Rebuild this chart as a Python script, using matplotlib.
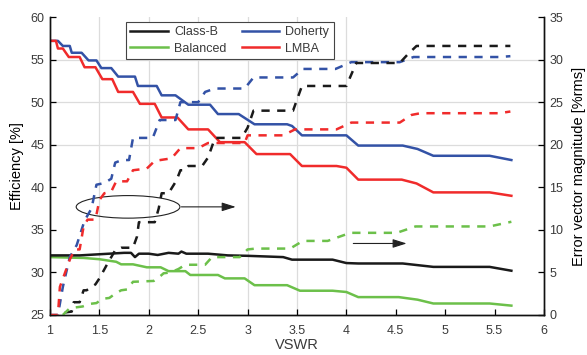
import matplotlib.pyplot as plt
from matplotlib.patches import Ellipse

plt.rcParams['font.family'] = ['Liberation Sans', 'DejaVu Sans']
plt.rcParams['font.size'] = 9

# efficiency (left axis, solid)
doherty_eff_x = [1.0, 1.08, 1.13, 1.20, 1.22, 1.32, 1.39, 1.47, 1.52, 1.62, 1.69, 1.86, 1.89, 2.08,
                 2.13, 2.27, 2.40, 2.62, 2.70, 2.91, 3.07, 3.40, 3.45, 3.55, 4.0, 4.12, 4.57, 4.72,
                 4.88, 5.45, 5.67]
doherty_eff_y = [57.2, 57.2, 56.6, 56.6, 55.8, 55.8, 54.9, 54.9, 54.0, 54.0, 53.0, 53.0, 51.9, 51.9,
                 50.8, 50.8, 49.7, 49.7, 48.6, 48.6, 47.4, 47.4, 47.2, 46.1, 46.1, 44.9, 44.9, 44.5,
                 43.7, 43.7, 43.2]

lmba_eff_x = [1.0, 1.06, 1.08, 1.13, 1.19, 1.30, 1.35, 1.46, 1.53, 1.63, 1.69, 1.84, 1.91, 2.06,
              2.13, 2.29, 2.40, 2.60, 2.72, 2.97, 3.09, 3.43, 3.55, 3.90, 4.0, 4.12, 4.56, 4.71,
              4.88, 5.45, 5.67]
lmba_eff_y = [57.2, 57.2, 56.3, 56.3, 55.3, 55.3, 54.1, 54.1, 52.7, 52.7, 51.2, 51.2, 49.8, 49.8,
              48.2, 48.2, 46.8, 46.8, 45.3, 45.3, 43.9, 43.9, 42.5, 42.5, 42.3, 40.9, 40.9, 40.45,
              39.4, 39.4, 39.0]

classb_eff_x = [1.0, 1.3, 1.45, 1.6, 1.75, 1.82, 1.86, 1.9, 2.0, 2.09, 2.2, 2.3, 2.33, 2.38, 2.6,
                2.8, 3.0, 3.36, 3.45, 3.86, 4.0, 4.12, 4.57, 4.88, 5.45, 5.67]
classb_eff_y = [32.0, 32.0, 32.1, 32.2, 32.3, 32.3, 31.8, 32.2, 32.2, 32.05, 32.3, 32.2, 32.45, 32.2,
                32.2, 32.0, 31.95, 31.8, 31.5, 31.5, 31.1, 31.05, 31.05, 30.65, 30.65, 30.2]

balanced_eff_x = [1.0, 1.34, 1.5, 1.67, 1.72, 1.84, 1.98, 2.12, 2.2, 2.37, 2.42, 2.7, 2.77, 2.97,
                  3.07, 3.4, 3.53, 3.86, 4.0, 4.12, 4.53, 4.72, 4.88, 5.45, 5.67]
balanced_eff_y = [31.8, 31.7, 31.55, 31.25, 30.95, 30.95, 30.6, 30.6, 30.15, 30.15, 29.7, 29.7,
                  29.3, 29.3, 28.5, 28.5, 27.85, 27.85, 27.7, 27.1, 27.1, 26.8, 26.35, 26.35, 26.1]

# EVM (right axis, dashed)
doherty_evm_x = [1.0, 1.08, 1.13, 1.2, 1.27, 1.35, 1.42, 1.47, 1.55, 1.62, 1.66, 1.73, 1.80, 1.84,
                 2.04, 2.11, 2.27, 2.32, 2.50, 2.57, 2.67, 2.97, 3.06, 3.46, 3.56, 3.89, 4.05, 4.54,
                 4.68, 5.55, 5.66]
doherty_evm_y = [0.0, 0.0, 3.3, 6.8, 8.2, 11.1, 12.5, 15.3, 15.5, 16.0, 17.9, 18.2, 18.2, 20.8,
                 20.8, 22.9, 22.9, 25.0, 25.0, 26.2, 26.6, 26.6, 27.9, 27.9, 28.9, 28.9, 29.7, 29.7,
                 30.3, 30.3, 30.4]

lmba_evm_x = [1.0, 1.08, 1.1, 1.2, 1.25, 1.30, 1.34, 1.38, 1.46, 1.5, 1.55, 1.62, 1.67, 1.78, 1.84,
              1.98, 2.06, 2.23, 2.32, 2.50, 2.60, 2.97, 3.0, 3.36, 3.48, 3.90, 4.05, 4.54, 4.66,
              4.75, 5.55, 5.66]
lmba_evm_y = [0.0, 0.0, 3.3, 6.5, 7.7, 7.7, 10.4, 11.2, 11.2, 13.5, 14.3, 14.5, 15.7, 15.7, 17.0,
              17.2, 18.1, 18.4, 19.6, 19.6, 20.2, 20.2, 21.1, 21.1, 21.8, 21.8, 22.6, 22.6, 23.5,
              23.7, 23.7, 23.9]

classb_evm_x = [1.15, 1.22, 1.24, 1.30, 1.34, 1.37, 1.46, 1.50, 1.58, 1.66, 1.72, 1.84, 1.88, 1.90,
                2.06, 2.10, 2.13, 2.20, 2.28, 2.32, 2.37, 2.40, 2.54, 2.60, 2.67, 2.94, 3.00, 3.06,
                3.46, 3.55, 4.0, 4.1, 4.54, 4.62, 4.71, 5.66]
classb_evm_y = [0.3, 0.4, 1.5, 1.5, 2.9, 2.9, 3.6, 4.3, 6.0, 7.6, 7.9, 7.9, 9.2, 10.9,
                10.9, 12.5, 14.3, 14.3, 15.8, 17.0, 17.0, 17.5, 17.5, 18.5, 20.8, 20.8, 22.0, 24.0,
                24.0, 26.9, 26.9, 29.6, 29.6, 30.6, 31.6, 31.6]

balanced_evm_x = [1.13, 1.20, 1.33, 1.40, 1.47, 1.53, 1.60, 1.66, 1.72, 1.78, 1.84, 2.05, 2.12,
                  2.15, 2.22, 2.30, 2.37, 2.57, 2.64, 2.92, 3.0, 3.08, 3.43, 3.56, 3.81, 4.04, 4.51,
                  4.70, 5.45, 5.67]
balanced_evm_y = [0.0, 0.8, 1.0, 1.3, 1.4, 1.9, 2.0, 2.5, 2.9, 3.0, 3.9, 4.0, 4.6,
                  4.9, 5.0, 5.4, 5.9, 5.9, 6.8, 6.8, 7.7, 7.8, 7.8, 8.7, 8.7, 9.65, 9.65,
                  10.4, 10.4, 10.95]

xticks = [1, 1.5, 2, 2.5, 3, 3.5, 4, 4.5, 5, 5.5, 6]
xtick_labels = ['1', '1.5', '2', '2.5', '3', '3.5', '4', '4.5', '5', '5.5', '6']
grid_x = [1.5, 2, 2.5, 3, 3.5, 4]
grid_y = [45, 50, 55]

c_black = '#1a1a1a'
c_blue = '#3352a6'
c_green = '#6cc04a'
c_red = '#f02b2b'

fig = plt.figure(figsize=(5.87, 3.55), dpi=100)
ax = fig.add_axes([0.0852, 0.1127, 0.8415, 0.8394])
ax2 = ax.twinx()

for gx in grid_x:
    ax.axvline(gx, color='#dcdcdc', lw=0.9, zorder=0)
for gy in grid_y:
    ax.axhline(gy, color='#dcdcdc', lw=0.9, zorder=0)

lw = 1.8
h_doh, = ax.plot(doherty_eff_x, doherty_eff_y, color=c_blue, lw=lw, label='Doherty')
h_lmba, = ax.plot(lmba_eff_x, lmba_eff_y, color=c_red, lw=lw, label='LMBA')
h_bal, = ax.plot(balanced_eff_x, balanced_eff_y, color=c_green, lw=lw, label='Balanced')
h_cb, = ax.plot(classb_eff_x, classb_eff_y, color=c_black, lw=lw, label='Class-B')

dash = (0, (3.3, 3.0))
ax2.plot(doherty_evm_x, doherty_evm_y, color=c_blue, lw=lw, ls=dash)
ax2.plot(lmba_evm_x, lmba_evm_y, color=c_red, lw=lw, ls=dash)
ax2.plot(classb_evm_x, classb_evm_y, color=c_black, lw=lw, ls=dash)
ax2.plot(balanced_evm_x, balanced_evm_y, color=c_green, lw=lw, ls=dash)

ax.set_xlim(1, 6)
ax.set_ylim(25, 60)
ax2.set_ylim(0, 35)
ax.set_xticks(xticks)
ax.set_xticklabels(xtick_labels)
ax.set_yticks(range(25, 61, 5))
ax2.set_yticks(range(0, 36, 5))

for a in (ax, ax2):
    a.spines['top'].set_visible(False)
    for s in a.spines.values():
        s.set_linewidth(1.0)
        s.set_color('#111111')
    a.tick_params(direction='in', length=4, width=0.9, labelsize=9, labelcolor='#3a3a3a', pad=4)
ax.tick_params(axis='x', pad=7)

ax.set_xlabel('VSWR', fontsize=10.5, color='#3a3a3a', labelpad=1)
ax.set_ylabel('Efficiency [%]', fontsize=10.5, labelpad=5)
ax2.set_ylabel('Error vector magnitude [%rms]', fontsize=10.5, labelpad=6)

# annotations pointing to the right axis
ax2.add_patch(Ellipse((1.79, 12.7), 1.05, 2.65, fill=False, ec='#222222', lw=0.8))
ax2.annotate('', xy=(2.88, 12.7), xytext=(2.33, 12.7),
             arrowprops=dict(arrowstyle='-|>,head_length=0.7,head_width=0.22', color='#222222',
                             lw=0.8, mutation_scale=12, shrinkA=0, shrinkB=0))
ax2.annotate('', xy=(4.61, 8.4), xytext=(4.07, 8.4),
             arrowprops=dict(arrowstyle='-|>,head_length=0.7,head_width=0.22', color='#222222',
                             lw=0.8, mutation_scale=12, shrinkA=0, shrinkB=0))

leg = ax2.legend([h_cb, h_bal, h_doh, h_lmba], ['Class-B', 'Balanced', 'Doherty', 'LMBA'],
                 ncol=2, loc='upper left', bbox_to_anchor=(0.154, 0.983), borderaxespad=0,
                 fancybox=False, framealpha=1, edgecolor='#444444', fontsize=9,
                 handlelength=3.0, labelspacing=0.35, columnspacing=1.2, handletextpad=0.5,
                 borderpad=0.35)
leg.get_frame().set_linewidth(0.8)
for t in leg.get_texts():
    t.set_color('#3a3a3a')

fig.savefig('out.png', dpi=100)
